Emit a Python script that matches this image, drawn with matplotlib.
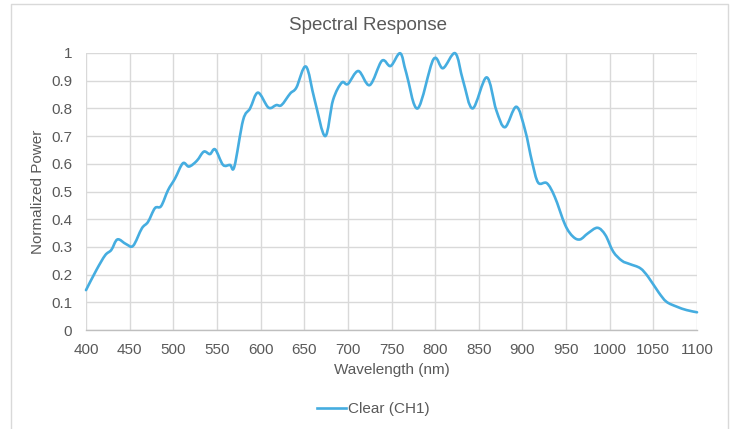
import numpy as np
import matplotlib
matplotlib.use("Agg")
import matplotlib.pyplot as plt
from matplotlib.path import Path
from matplotlib.patches import PathPatch
from matplotlib.lines import Line2D

plt.rcParams['font.family'] = ['Liberation Sans', 'DejaVu Sans']

wavelength = [400, 412, 422, 429, 436, 446, 454, 464, 471, 479, 486, 494, 502, 511, 518,
              527, 535, 542, 548, 557, 565, 570, 580, 588, 597, 609, 618, 624, 634, 641,
              652, 662, 674, 683, 693, 700, 712, 725, 739, 749, 760, 767, 780, 798, 809,
              823, 832, 843, 859, 870, 880, 893, 903, 911, 918, 928, 937, 949, 958, 966,
              975, 986, 995, 1004, 1014, 1023, 1035, 1044, 1056, 1065, 1077, 1088, 1100]
power = [0.144, 0.217, 0.270, 0.289, 0.327, 0.310, 0.304, 0.367, 0.390, 0.440, 0.447, 0.505,
         0.547, 0.602, 0.590, 0.611, 0.644, 0.635, 0.652, 0.596, 0.596, 0.590, 0.758, 0.800,
         0.857, 0.803, 0.812, 0.812, 0.854, 0.875, 0.951, 0.830, 0.700, 0.830, 0.893, 0.888,
         0.935, 0.884, 0.972, 0.953, 0.999, 0.927, 0.800, 0.977, 0.945, 0.999, 0.900, 0.800,
         0.912, 0.794, 0.732, 0.806, 0.722, 0.608, 0.532, 0.530, 0.481, 0.379, 0.337, 0.327,
         0.349, 0.369, 0.343, 0.283, 0.250, 0.238, 0.223, 0.192, 0.136, 0.102, 0.084, 0.072,
         0.064]
series_name = "Clear (CH1)"
title = "Spectral Response"
xlabel = "Wavelength (nm)"
ylabel = "Normalized Power"
xticks = list(range(400, 1101, 50))
yticks = [0, 0.1, 0.2, 0.3, 0.4, 0.5, 0.6, 0.7, 0.8, 0.9, 1]
ytick_labels = ["0", "0.1", "0.2", "0.3", "0.4", "0.5", "0.6", "0.7", "0.8", "0.9", "1"]

line_color = "#45ade0"
text_color = "#595959"
grid_color = "#d9d9d9"

fig = plt.figure(figsize=(7.36, 4.29), dpi=100)
ax = fig.add_axes([86/736, 1-330/429, (697-86)/736, (330-53)/429])

# smoothed line (Catmull-Rom as cubic Bezier segments, like a spreadsheet smooth line)
x = np.array(wavelength, float)
y = np.array(power, float)
verts = [(x[0], y[0])]
codes = [Path.MOVETO]
t = 1/6
for i in range(len(x)-1):
    p0 = (x[i-1], y[i-1]) if i > 0 else (x[i], y[i])
    p1 = (x[i], y[i]); p2 = (x[i+1], y[i+1])
    p3 = (x[i+2], y[i+2]) if i+2 < len(x) else p2
    c1 = (p1[0] + (p2[0]-p0[0])*t, p1[1] + (p2[1]-p0[1])*t)
    c2 = (p2[0] - (p3[0]-p1[0])*t, p2[1] - (p3[1]-p1[1])*t)
    verts += [c1, c2, p2]
    codes += [Path.CURVE4]*3
patch = PathPatch(Path(verts, codes), facecolor='none', edgecolor=line_color, lw=1.9,
                  capstyle='round', joinstyle='round', zorder=3, clip_on=False)
ax.add_patch(patch)

ax.set_xlim(400, 1100)
ax.set_ylim(0, 1)
ax.set_xticks(xticks)
ax.set_yticks(yticks)
ax.set_yticklabels(ytick_labels)
ax.grid(True, color=grid_color, lw=1.0)
ax.set_axisbelow(True)
for s in ['top', 'right', 'left']:
    ax.spines[s].set_visible(False)
ax.spines['bottom'].set_color('#bfbfbf')
ax.spines['bottom'].set_linewidth(1.0)
ax.tick_params(length=0, labelsize=11, colors=text_color)
ax.tick_params(axis='x', pad=9)
ax.tick_params(axis='y', pad=10)

ax.set_xlabel(xlabel, fontsize=11, color=text_color, labelpad=5)
ax.set_ylabel(ylabel, fontsize=11, color=text_color, labelpad=4)
fig.text(0.5, 1-25/429, title, ha='center', va='center', fontsize=13.5, color=text_color)

handle = Line2D([0], [0], color=line_color, lw=1.9)
fig.legend([handle], [series_name], loc='center', bbox_to_anchor=(373/736, 1-409/429),
           frameon=False, fontsize=11, labelcolor=text_color, handlelength=1.9,
           handletextpad=0.15)

# chart area border
fig.add_artist(Line2D([11/736, 11/736, 728/736, 728/736], [0, 1-4/429, 1-4/429, 0],
                      transform=fig.transFigure, color=grid_color, lw=1.0))

fig.savefig("out.png", dpi=100)
